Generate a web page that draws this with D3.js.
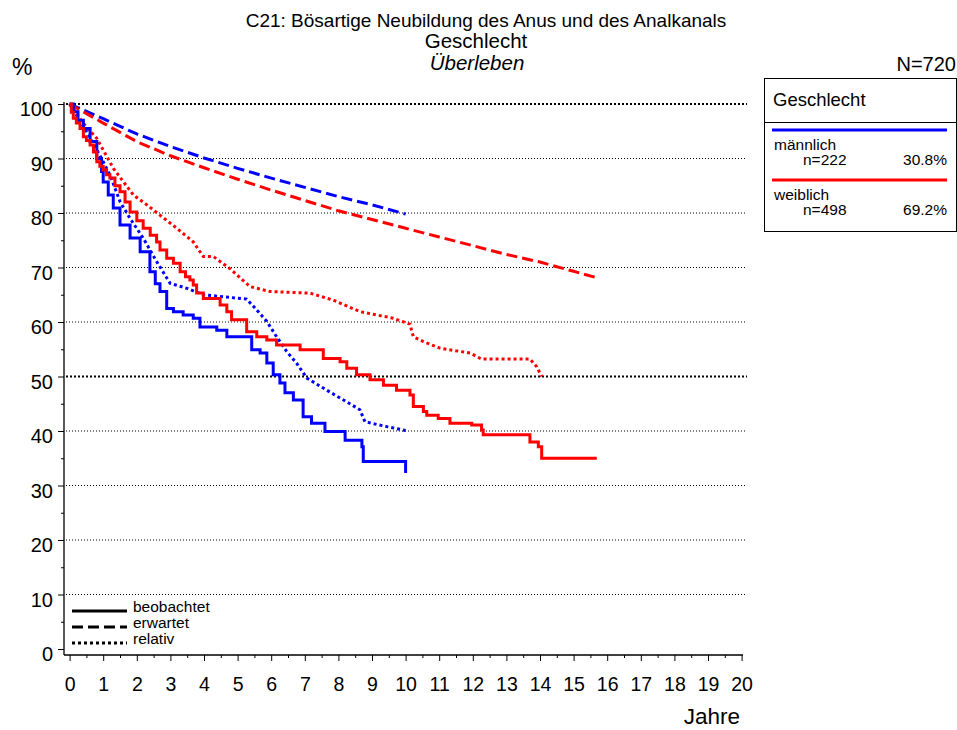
<!DOCTYPE html>
<html>
<head>
<meta charset="utf-8">
<script src="https://cdn.jsdelivr.net/npm/d3@7"></script>
<style>
  body { margin: 0; background: #fff; }
  svg { font-family: "Liberation Sans", Arial, sans-serif; }
</style>
</head>
<body>
<svg width="957" height="730"></svg>
<script>
// survival curves, [years, percent]
const maleObserved = [[0,100],[0.11,98.6],[0.25,97],[0.41,95.5],[0.61,93.1],[0.81,90],[0.95,87.6],[1.0,85.7],[1.15,83.3],[1.3,80.9],[1.5,77.8],[1.8,75.4],[2.1,72.9],[2.39,69.2],[2.55,67],[2.69,65.6],[2.89,62.5],[3.09,61.9],[3.38,61.3],[3.68,60.7],[3.88,59.1],[4.38,58.5],[4.68,57.3],[5.42,54.9],[5.67,54.3],[5.87,52.5],[6.06,50.3],[6.26,48.8],[6.41,47],[6.66,45.7],[6.95,42.6],[7.2,41.4],[7.6,39.9],[8.2,38.3],[8.7,37.1],[8.74,34.4],[10,32.3]];
const maleExpected = [[0,100],[1,97.3],[2,94.5],[3,92.2],[4,90.1],[5,88.2],[6,86.4],[7,84.7],[8,83],[9,81.5],[10,79.8]];
const maleRelative = [[0,100],[0.3,97],[0.6,94],[0.9,90.6],[1.2,87],[1.5,82.1],[1.8,79],[2.19,75.4],[2.59,71.1],[2.99,67.1],[3.48,66.2],[3.98,65.0],[5.27,64.2],[5.57,62.2],[5.87,60.1],[6.16,57.3],[6.46,54.6],[6.76,52.4],[7.06,49.7],[7.65,47.5],[8.15,45.7],[8.64,43.9],[8.79,41.7],[9.44,40.8],[10,40.1]];

const femaleObserved = [[0,100],[0.05,98.5],[0.11,97.4],[0.2,96.5],[0.31,95.5],[0.41,94],[0.5,93.3],[0.61,92.5],[0.71,91.2],[0.81,89.4],[0.9,88.6],[1.0,87.9],[1.1,87],[1.2,86.4],[1.35,85],[1.5,83.9],[1.65,82],[1.8,80.2],[2.0,78.6],[2.19,77.2],[2.4,75.9],[2.59,74.7],[2.69,73.2],[2.89,71.7],[3.09,70.8],[3.29,69.2],[3.45,68.3],[3.58,67.7],[3.68,66.8],[3.78,65.3],[3.98,64.3],[4.48,63.1],[4.68,61.9],[4.82,60.4],[5.27,58.2],[5.57,57.3],[5.87,56.7],[6.16,55.8],[6.86,54.9],[7.55,53.3],[8.05,52.7],[8.25,51.5],[8.54,50.3],[8.94,49.4],[9.34,48.4],[9.73,47.5],[10.13,46.6],[10.23,44.5],[10.53,43.6],[10.63,42.9],[10.97,42.3],[11.32,41.4],[11.97,41.1],[12.26,40.2],[12.31,39.3],[13.7,38.0],[13.95,37.1],[14.05,35.0],[15.69,35.0]];
const femaleExpected = [[0,100],[1,96.5],[2,93.1],[3,90.5],[4,88.3],[5,86.2],[6,84.2],[7,82.3],[8,80.4],[9,78.8],[10,77.2],[11,75.6],[12,74],[13,72.4],[14,71],[15,69.3],[15.7,68.1]];
const femaleRelative = [[0,100],[0.11,99.2],[0.4,96.5],[0.81,93.7],[1.3,88.2],[1.9,83.3],[2.3,81.5],[2.69,79.6],[3.19,77.2],[3.68,74.7],[3.98,72.0],[4.28,72.0],[4.77,69.8],[5.37,66.5],[5.96,65.6],[7.15,65.3],[7.85,64.0],[8.64,61.9],[9.63,60.7],[10.13,59.6],[10.23,57.3],[10.53,56.4],[11.02,55.2],[11.92,54.3],[12.26,53.2],[13.7,53.2],[13.9,51.8],[14.05,50.0]];

const groups = ['männlich', 'weiblich'];
const groupN = ['n=222', 'n=498'];
const groupPct = ['30.8%', '69.2%'];
const groupColors = ['#0000ff', '#ff0000'];
const lineTypes = ['beobachtet', 'erwartet', 'relativ'];
const yTicks = [0, 10, 20, 30, 40, 50, 60, 70, 80, 90, 100];
const xTicks = d3.range(0, 21);

const svg = d3.select('svg');
const x = d3.scaleLinear().domain([0, 20]).range([69.6, 741.6]);
const y = d3.scaleLinear().domain([0, 100]).range([649, 104]);
const dashes = { beobachtet: null, erwartet: '11,5', relativ: '3,3' };

// titles
svg.append('text').attr('x', 486).attr('y', 27).attr('text-anchor', 'middle')
  .style('font-size', '19px').text('C21: Bösartige Neubildung des Anus und des Analkanals');
svg.append('text').attr('x', 476).attr('y', 48).attr('text-anchor', 'middle')
  .style('font-size', '20.5px').text('Geschlecht');
svg.append('text').attr('x', 477).attr('y', 70).attr('text-anchor', 'middle')
  .style('font-size', '20.5px').style('font-style', 'italic').text('Überleben');
svg.append('text').attr('x', 12).attr('y', 75).style('font-size', '23px').text('%');
svg.append('text').attr('x', 956).attr('y', 71).attr('text-anchor', 'end')
  .style('font-size', '20px').text('N=720');

// grid
svg.append('g').selectAll('line').data(yTicks.filter(d => d > 0)).join('line')
  .attr('x1', 66).attr('x2', 747)
  .attr('y1', d => y(d)).attr('y2', d => y(d))
  .attr('stroke', '#000')
  .attr('stroke-width', d => (d === 50 || d === 100) ? 1.8 : 1)
  .attr('stroke-dasharray', d => (d === 50 || d === 100) ? '2,2' : '1,2');

// axes
const yAxis = d3.axisLeft(y).tickValues(yTicks).tickSize(6).tickSizeOuter(0).tickPadding(5);
const gy = svg.append('g').attr('transform', 'translate(64,0)').call(yAxis);
gy.select('.domain').remove();
gy.selectAll('text').style('font-size', '20px').attr('font-family', null).attr('dy', '0.58em');
svg.append('g').attr('transform', 'translate(64,0)')
  .call(d3.axisLeft(y).tickValues(d3.range(5, 100, 10)).tickSize(3).tickFormat(''))
  .select('.domain').remove();

const xAxis = d3.axisBottom(x).tickValues(xTicks).tickSize(6).tickSizeOuter(0).tickPadding(16);
const gx = svg.append('g').attr('transform', 'translate(0,655)').call(xAxis);
gx.select('.domain').remove();
gx.selectAll('text').style('font-size', '19.5px').attr('font-family', null);
svg.append('g').attr('transform', 'translate(0,655)')
  .call(d3.axisBottom(x).tickValues(d3.range(0.5, 20, 1)).tickSize(3).tickFormat(''))
  .select('.domain').remove();

svg.append('line').attr('x1', 64).attr('x2', 64).attr('y1', 102).attr('y2', 655)
  .attr('stroke', '#000').attr('stroke-width', 1.3);
svg.append('line').attr('x1', 64).attr('x2', 743).attr('y1', 655).attr('y2', 655)
  .attr('stroke', '#000').attr('stroke-width', 1.3);

svg.append('text').attr('x', 712).attr('y', 724).attr('text-anchor', 'middle')
  .style('font-size', '22.5px').text('Jahre');

// curves
const stepLine = d3.line().x(d => x(d[0])).y(d => y(d[1])).curve(d3.curveStepAfter);
const plainLine = d3.line().x(d => x(d[0])).y(d => y(d[1]));
const series = [
  { data: maleExpected, color: groupColors[0], type: 'erwartet' },
  { data: femaleExpected, color: groupColors[1], type: 'erwartet' },
  { data: maleRelative, color: groupColors[0], type: 'relativ' },
  { data: femaleRelative, color: groupColors[1], type: 'relativ' },
  { data: maleObserved, color: groupColors[0], type: 'beobachtet' },
  { data: femaleObserved, color: groupColors[1], type: 'beobachtet' },
];
svg.append('g').selectAll('path').data(series).join('path')
  .attr('d', s => s.type === 'beobachtet' ? stepLine(s.data) : plainLine(s.data))
  .attr('fill', 'none')
  .attr('stroke', s => s.color)
  .attr('stroke-width', 3)
  .attr('stroke-dasharray', s => dashes[s.type]);

// line type legend
const lt = svg.append('g').selectAll('g').data(lineTypes).join('g')
  .attr('transform', (d, i) => `translate(72,${611 + i * 16})`);
lt.append('line').attr('x1', 0).attr('x2', 55)
  .attr('stroke', '#000').attr('stroke-width', 3)
  .attr('stroke-dasharray', d => dashes[d]);
lt.append('text').attr('x', 61).attr('y', 1).style('font-size', '15.5px').text(d => d);

// group legend
const lg = svg.append('g');
lg.append('rect').attr('x', 764.5).attr('y', 78.5).attr('width', 192).attr('height', 153)
  .attr('fill', 'none').attr('stroke', '#000').attr('stroke-width', 1);
lg.append('line').attr('x1', 764.5).attr('x2', 956).attr('y1', 122.5).attr('y2', 122.5)
  .attr('stroke', '#000');
lg.append('text').attr('x', 773).attr('y', 106).style('font-size', '18.5px').text('Geschlecht');
const items = lg.selectAll('g').data(groups).join('g')
  .attr('transform', (d, i) => `translate(0,${i * 50})`);
items.append('line').attr('x1', 772).attr('x2', 947).attr('y1', 130).attr('y2', 130)
  .attr('stroke', (d, i) => groupColors[i]).attr('stroke-width', 3);
items.append('text').attr('x', 774).attr('y', 150).style('font-size', '15.5px').text(d => d);
items.append('text').attr('x', 803).attr('y', 165).style('font-size', '15.5px').text((d, i) => groupN[i]);
items.append('text').attr('x', 947).attr('y', 165).attr('text-anchor', 'end')
  .style('font-size', '15.5px').text((d, i) => groupPct[i]);
</script>
</body>
</html>
